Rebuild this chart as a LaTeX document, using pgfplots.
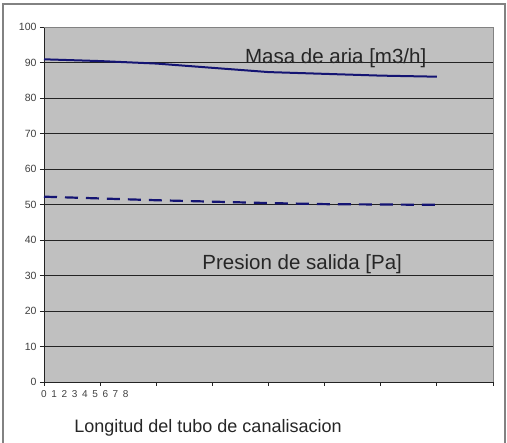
\documentclass[border=0pt]{standalone}
\usepackage{pgfplots}
\pgfplotsset{compat=1.18}
\usepackage{fontspec}
\setmainfont{Liberation Sans}
\definecolor{plotbg}{RGB}{192,192,192}
\definecolor{navyline}{RGB}{20,20,115}
\definecolor{gridc}{RGB}{35,35,35}
\definecolor{framec}{RGB}{130,130,130}
\begin{document}
\begin{tikzpicture}
\useasboundingbox (0pt,0pt) rectangle (507pt,443pt);
\fill[white] (0pt,0pt) rectangle (507pt,443pt);
\draw[framec, line width=1.4pt] (3pt,-2pt) -- (3pt,439pt) -- (505pt,439pt) -- (505pt,-2pt);
\begin{axis}[
  at={(44pt,61pt)}, anchor=south west,
  scale only axis, width=449pt, height=355pt,
  xmin=0, xmax=8, ymin=0, ymax=100,
  axis x line*=bottom, axis y line*=left,
  axis line style={gridc, line width=0.9pt},
  axis background/.style={fill=plotbg, draw=framec, line width=0.8pt},
  ytick={0,10,...,100},
  xtick={0,...,8}, xticklabels={},
  extra x ticks={0,0.182,0.364,0.546,0.728,0.91,1.092,1.274,1.456},
  extra x tick labels={0,1,2,3,4,5,6,7,8},
  extra x tick style={major tick length=0pt, xticklabel style={yshift=-5pt}},
  tick align=outside, major tick length=4pt,
  tick style={gridc, line width=0.8pt},
  ymajorgrids, grid style={gridc, line width=0.9pt},
  yticklabel style={font=\fontsize{10.5}{12}\selectfont, text=black!75},
  xticklabel style={font=\fontsize{10}{12}\selectfont, text=black!75},
  /pgf/number format/assume math mode=true,
  clip=false,
]
\addplot[navyline, line width=2pt] coordinates {
  (0,90.9) (1,90.4) (2,89.7) (3,88.5) (4,87.3) (5,86.8) (6,86.3) (7,86.0)};
\addplot[navyline, line width=2.2pt, dash pattern=on 13pt off 8pt] coordinates {
  (0,52.2) (1,51.7) (2,51.2) (3,50.8) (4,50.4) (5,50.1) (6,50.0) (7,49.9)};
\draw[framec, line width=0.8pt] (rel axis cs:0,1) -- (rel axis cs:1,1);
\node[anchor=base west, inner sep=0pt, font=\fontsize{20.5}{24}\selectfont, text=black!85] at (axis cs:3.58,89.8) {Masa de aria [m3/h]};
\node[anchor=base west, inner sep=0pt, font=\fontsize{20.5}{24}\selectfont, text=black!85] at (axis cs:2.82,31.8) {Presion de salida [Pa]};
\end{axis}
\node[font=\fontsize{18}{21}\selectfont, text=black!85] at (208pt,15pt) {Longitud del tubo de canalisacion};
\end{tikzpicture}
\end{document}
